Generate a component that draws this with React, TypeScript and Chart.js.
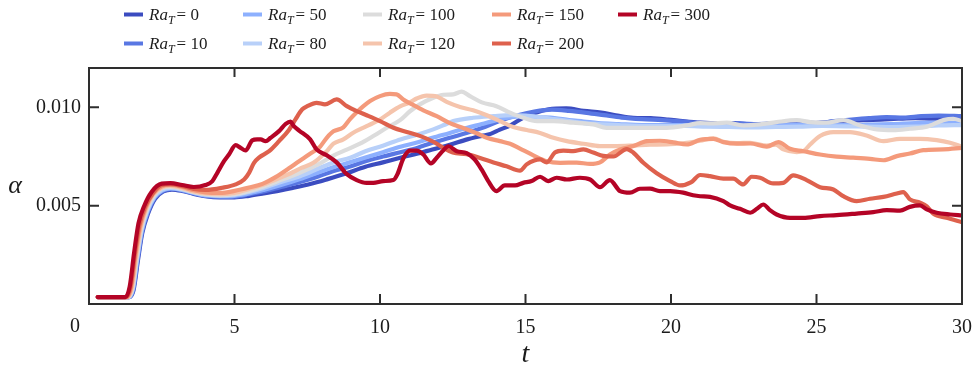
import { useEffect, useRef } from "react";
import { Chart, registerables } from "chart.js";

Chart.register(...registerables);

const SERIF = '"Liberation Serif", "Times New Roman", "DejaVu Serif", serif';
const INK = "#1c1c1c";
const FRAME = "#2e2e2e";

// Thermal Rayleigh numbers of the runs and their coolwarm colours
const RA_T = [0, 10, 50, 80, 100, 120, 150, 200, 300];
const COLORS = ["#3b4cc0", "#5977e3", "#8db0fe", "#b8d0f9", "#dcdcdc", "#f5c4ac", "#f49a7b", "#de614d", "#b40426"];

// alpha values are stored in units of 1e-3
const ALPHA_UNIT = 1e-3;

const X_TICKS = [0, 5, 10, 15, 20, 25, 30];
const Y_TICKS = [0.005, 0.01];

// [t, alpha (x1e-3)] for each run
const RA0: [number, number][] = [
  [0.3, 0.35], [1.38, 0.35], [1.53, 0.7], [1.68, 2.2], [1.83, 3.6], [2.03, 4.6], [2.27, 5.35], [2.55, 5.72],
  [2.85, 5.82], [3.2, 5.75], [3.6, 5.6], [4.0, 5.48], [4.5, 5.42], [5.0, 5.42], [5.5, 5.5], [6.0, 5.62],
  [6.5, 5.75], [7.0, 5.9], [7.6, 6.1], [8.2, 6.35], [8.8, 6.62], [9.5, 6.98], [10.1, 7.2], [10.7, 7.44],
  [11.3, 7.65], [11.8, 7.86], [12.4, 8.1], [13.0, 8.37], [13.5, 8.55], [13.8, 8.65], [14.1, 8.85], [14.5, 9.1],
  [14.9, 9.45], [15.3, 9.7], [15.8, 9.9], [16.4, 9.95], [17.0, 9.82], [17.6, 9.73], [18.1, 9.6], [18.7, 9.47],
  [19.3, 9.45], [19.9, 9.38], [20.4, 9.3], [21.0, 9.22], [21.6, 9.18], [22.2, 9.2], [22.8, 9.12], [23.5, 9.18],
  [24.2, 9.22], [24.8, 9.18], [25.4, 9.25], [26.0, 9.3], [26.6, 9.35], [27.2, 9.38], [27.8, 9.42], [28.4, 9.45],
  [29.0, 9.42], [29.5, 9.48], [30.0, 9.5],
];

const RA10: [number, number][] = [
  [0.3, 0.35], [1.37, 0.35], [1.52, 0.75], [1.67, 2.25], [1.82, 3.65], [2.02, 4.65], [2.26, 5.4], [2.55, 5.75],
  [2.85, 5.85], [3.2, 5.78], [3.6, 5.62], [4.0, 5.5], [4.5, 5.45], [5.0, 5.46], [5.5, 5.58], [6.0, 5.72],
  [6.6, 5.95], [7.25, 6.2], [7.9, 6.5], [8.5, 6.8], [9.0, 7.0], [9.5, 7.26], [10.1, 7.5], [10.7, 7.72],
  [11.3, 7.95], [11.8, 8.2], [12.4, 8.45], [13.0, 8.71], [13.6, 9.0], [14.1, 9.3], [14.7, 9.58], [15.3, 9.78],
  [15.9, 9.88], [16.5, 9.82], [17.1, 9.72], [17.7, 9.6], [18.3, 9.48], [19.0, 9.4], [19.7, 9.35], [20.4, 9.28],
  [21.0, 9.2], [21.6, 9.15], [22.3, 9.18], [23.0, 9.15], [23.7, 9.2], [24.4, 9.25], [25.0, 9.2], [25.6, 9.3],
  [26.2, 9.38], [26.8, 9.45], [27.4, 9.5], [28.0, 9.48], [28.6, 9.55], [29.2, 9.58], [30.0, 9.55],
];

const RA50: [number, number][] = [
  [0.3, 0.35], [1.36, 0.35], [1.51, 0.75], [1.66, 2.3], [1.81, 3.7], [2.01, 4.7], [2.25, 5.42], [2.52, 5.78],
  [2.82, 5.88], [3.2, 5.8], [3.6, 5.65], [4.0, 5.52], [4.5, 5.48], [5.0, 5.5], [5.5, 5.62], [6.0, 5.8],
  [6.6, 6.05], [7.25, 6.35], [7.9, 6.7], [8.5, 7.0], [9.5, 7.45], [10.1, 7.72], [10.7, 8.0], [11.3, 8.22],
  [11.8, 8.45], [12.4, 8.7], [13.0, 8.96], [13.5, 9.15], [14.0, 9.35], [14.5, 9.5], [15.0, 9.55], [15.5, 9.5],
  [16.0, 9.45], [16.5, 9.35], [17.0, 9.28], [17.5, 9.2], [18.2, 9.15], [19.0, 9.1], [19.8, 9.1], [20.5, 9.1],
  [21.2, 9.1], [22.0, 9.05], [22.8, 9.05], [23.6, 9.08], [24.4, 9.1], [25.2, 9.12], [26.0, 9.1], [26.8, 9.12],
  [27.6, 9.15], [28.4, 9.2], [29.2, 9.22], [30.0, 9.2],
];

const RA80: [number, number][] = [
  [0.3, 0.35], [1.35, 0.35], [1.5, 0.78], [1.65, 2.35], [1.8, 3.75], [2.0, 4.75], [2.24, 5.45], [2.5, 5.8],
  [2.8, 5.9], [3.2, 5.82], [3.6, 5.68], [4.0, 5.56], [4.5, 5.52], [5.0, 5.55], [5.5, 5.7], [6.0, 5.9],
  [6.6, 6.2], [7.25, 6.5], [7.9, 6.9], [8.4, 7.2], [9.0, 7.45], [9.5, 7.77], [10.1, 8.05], [10.7, 8.37],
  [11.3, 8.62], [11.83, 8.88], [12.2, 9.1], [12.52, 9.3], [13.2, 9.47], [13.9, 9.55], [14.5, 9.6], [15.0, 9.58],
  [15.5, 9.5], [16.0, 9.4], [16.5, 9.3], [17.0, 9.2], [17.5, 9.15], [18.2, 9.1], [19.0, 9.05], [19.8, 9.05],
  [20.5, 9.05], [21.2, 9.02], [22.0, 9.0], [22.8, 8.98], [23.6, 9.0], [24.4, 9.02], [25.2, 9.05], [26.0, 9.03],
  [26.8, 9.02], [27.6, 9.0], [28.4, 9.02], [29.2, 9.08], [30.0, 9.1],
];

const RA100: [number, number][] = [
  [0.3, 0.35], [1.34, 0.35], [1.49, 0.8], [1.64, 2.35], [1.79, 3.8], [1.99, 4.8], [2.22, 5.5], [2.5, 5.88],
  [2.8, 5.95], [3.2, 5.85], [3.6, 5.68], [4.0, 5.58], [4.5, 5.52], [5.0, 5.58], [5.5, 5.75], [6.0, 5.98],
  [6.5, 6.25], [7.2, 6.65], [7.94, 7.15], [8.4, 7.55], [8.86, 7.85], [9.31, 8.15], [9.77, 8.54], [10.23, 8.96],
  [10.69, 9.35], [11.03, 9.8], [11.37, 10.15], [11.83, 10.49], [12.18, 10.64], [12.52, 10.66], [12.8, 10.8],
  [13.09, 10.57], [13.5, 10.25], [14.0, 10.06], [14.47, 9.73], [14.92, 9.47], [15.39, 9.3], [15.96, 9.3],
  [16.64, 9.22], [17.33, 9.13], [17.79, 8.96], [18.48, 8.96], [19.17, 8.96], [19.85, 8.96], [20.54, 9.08],
  [21.0, 9.2], [21.34, 9.18], [21.91, 9.22], [22.48, 9.08], [23.06, 9.13], [23.63, 9.25], [24.32, 9.35],
  [24.78, 9.25], [25.35, 9.22], [25.92, 9.35], [26.5, 9.08], [27.07, 8.88], [27.64, 8.84], [28.21, 8.91],
  [28.79, 9.01], [29.36, 9.35], [29.7, 9.42], [30.0, 9.3],
];

const RA120: [number, number][] = [
  [0.3, 0.35], [1.32, 0.35], [1.47, 0.8], [1.62, 2.4], [1.77, 3.85], [1.97, 4.85], [2.2, 5.55], [2.5, 5.92],
  [2.8, 6.0], [3.2, 5.9], [3.6, 5.72], [4.0, 5.62], [4.5, 5.58], [5.0, 5.65], [5.5, 5.85], [6.0, 6.08],
  [6.5, 6.38], [7.0, 6.7], [7.3, 6.92], [7.71, 7.18], [8.17, 7.77], [8.4, 8.15], [8.74, 8.37], [9.08, 8.71],
  [9.54, 9.04], [10.0, 9.38], [10.34, 9.73], [10.69, 10.05], [11.03, 10.25], [11.26, 10.45], [11.6, 10.6],
  [11.95, 10.55], [12.29, 10.28], [12.75, 10.02], [13.2, 9.85], [13.67, 9.6], [14.12, 9.3], [14.58, 9.0],
  [15.04, 8.85], [15.5, 8.7], [15.96, 8.45], [16.42, 8.28], [16.99, 8.15], [17.56, 8.03], [18.13, 8.03],
  [18.71, 8.06], [19.28, 8.1], [19.85, 8.11], [20.54, 8.2], [21.0, 8.3], [21.46, 8.42], [21.8, 8.25],
  [22.26, 8.18], [22.72, 8.2], [23.29, 8.05], [23.6, 8.1], [23.86, 7.86], [24.32, 7.72], [24.55, 7.77],
  [24.78, 8.11], [25.12, 8.54], [25.58, 8.74], [26.15, 8.74], [26.72, 8.57], [27.3, 8.28], [27.87, 8.4],
  [28.56, 8.4], [29.13, 8.33], [29.59, 8.2], [30.0, 8.0],
];

const RA150: [number, number][] = [
  [0.3, 0.35], [1.3, 0.35], [1.45, 0.85], [1.6, 2.5], [1.75, 3.9], [1.95, 4.9], [2.2, 5.6], [2.5, 5.98],
  [2.8, 6.05], [3.2, 5.95], [3.6, 5.78], [4.0, 5.68], [4.5, 5.65], [5.0, 5.75], [5.5, 5.92], [5.96, 6.11],
  [6.41, 6.45], [6.87, 6.9], [7.22, 7.26], [7.56, 7.6], [7.94, 8.0], [8.17, 8.45], [8.4, 8.78], [8.74, 8.98],
  [8.97, 9.4], [9.2, 9.75], [9.43, 10.06], [9.66, 10.32], [10.0, 10.57], [10.34, 10.68], [10.57, 10.66],
  [10.8, 10.4], [11.14, 10.12], [11.49, 9.85], [11.95, 9.55], [12.4, 9.2], [12.86, 8.95], [13.32, 8.68],
  [13.67, 8.45], [14.12, 8.28], [14.47, 8.15], [14.81, 7.9], [15.27, 7.56], [15.73, 7.26], [16.19, 7.18],
  [16.76, 7.19], [17.22, 7.12], [17.56, 7.2], [17.9, 7.6], [18.25, 7.86], [18.71, 8.03], [19.17, 8.28],
  [19.62, 8.3], [20.08, 8.22], [20.54, 8.11], [21.0, 8.35], [21.46, 8.4], [21.8, 8.23], [22.26, 8.15],
  [22.72, 8.16], [23.29, 8.0], [23.69, 8.23], [24.09, 7.89], [24.55, 7.77], [25.12, 7.6], [25.69, 7.49],
  [26.26, 7.44], [26.84, 7.38], [27.3, 7.31], [27.76, 7.52], [28.21, 7.65], [28.67, 7.82], [29.36, 7.86],
  [30.0, 7.94],
];

const RA200: [number, number][] = [
  [0.3, 0.35], [1.28, 0.35], [1.43, 0.9], [1.58, 2.6], [1.73, 4.0], [1.93, 4.95], [2.2, 5.65], [2.5, 6.05],
  [2.8, 6.1], [3.2, 6.0], [3.6, 5.85], [4.0, 5.8], [4.58, 5.91], [5.04, 6.08], [5.33, 6.33], [5.5, 6.67],
  [5.67, 7.18], [5.84, 7.44], [6.19, 7.77], [6.53, 8.28], [6.87, 8.85], [7.1, 9.4], [7.33, 9.9], [7.5, 10.06],
  [7.82, 10.23], [8.11, 10.15], [8.51, 10.4], [8.86, 10.06], [9.2, 9.81], [9.54, 9.6], [10.0, 9.3],
  [10.46, 8.96], [10.92, 8.75], [11.37, 8.55], [11.83, 8.25], [12.18, 7.94], [12.5, 7.7], [12.98, 7.62],
  [13.44, 7.42], [13.9, 7.2], [14.35, 7.0], [14.81, 6.78], [15.04, 7.1], [15.3, 7.3], [15.5, 7.35],
  [15.73, 7.2], [16.01, 7.7], [16.3, 7.8], [16.64, 7.77], [16.99, 7.86], [17.33, 7.7], [17.67, 7.53],
  [18.02, 7.5], [18.48, 7.88], [18.71, 7.69], [19.05, 7.18], [19.51, 6.65], [19.97, 6.25], [20.31, 6.03],
  [20.7, 6.2], [21.0, 6.56], [21.34, 6.5], [21.8, 6.37], [22.14, 6.37], [22.48, 6.08], [22.77, 6.47],
  [23.06, 6.42], [23.51, 6.13], [23.86, 6.16], [24.2, 6.54], [24.66, 6.3], [25.12, 5.94], [25.58, 5.82],
  [25.92, 5.48], [26.38, 5.23], [26.84, 5.35], [27.3, 5.45], [27.76, 5.62], [27.98, 5.69], [28.21, 5.32],
  [28.56, 5.15], [28.79, 4.97], [29.01, 4.6], [29.47, 4.38], [30.0, 4.16],
];

const RA300: [number, number][] = [
  [0.3, 0.35], [1.25, 0.35], [1.4, 0.9], [1.55, 2.6], [1.7, 4.1], [1.9, 5.0], [2.15, 5.7], [2.5, 6.12],
  [2.8, 6.15], [3.2, 6.05], [3.6, 5.95], [4.0, 6.05], [4.24, 6.25], [4.41, 6.67], [4.64, 7.26], [4.81, 7.6],
  [5.04, 8.08], [5.21, 7.94], [5.38, 7.81], [5.61, 8.32], [5.78, 8.37], [5.9, 8.37], [6.07, 8.28], [6.24, 8.45],
  [6.53, 8.79], [6.76, 9.16], [6.93, 9.27], [7.04, 9.04], [7.22, 8.82], [7.6, 8.37], [7.82, 7.86], [8.17, 7.56],
  [8.51, 7.2], [8.86, 6.6], [9.2, 6.3], [9.54, 6.16], [9.77, 6.16], [10.11, 6.25], [10.46, 6.3], [10.6, 6.6],
  [10.8, 7.4], [11.03, 7.8], [11.26, 7.8], [11.49, 7.6], [11.75, 7.15], [11.95, 7.44], [12.18, 7.82],
  [12.35, 8.02], [12.64, 7.77], [12.98, 7.67], [13.25, 7.35], [13.49, 6.84], [13.72, 6.25], [14.0, 5.74],
  [14.29, 6.03], [14.64, 6.03], [14.92, 6.16], [15.21, 6.25], [15.5, 6.47], [15.78, 6.25], [16.07, 6.42],
  [16.42, 6.33], [16.87, 6.42], [17.22, 6.33], [17.56, 5.94], [17.9, 6.3], [18.25, 5.74], [18.59, 5.66],
  [18.93, 5.86], [19.28, 5.87], [19.62, 5.74], [19.97, 5.74], [20.42, 5.66], [20.76, 5.53], [21.0, 5.48],
  [21.34, 5.45], [21.8, 5.23], [22.03, 5.01], [22.37, 4.84], [22.72, 4.64], [22.95, 4.84], [23.17, 5.06],
  [23.4, 4.77], [23.63, 4.55], [24.09, 4.38], [24.55, 4.38], [25.12, 4.47], [25.69, 4.52], [26.38, 4.6],
  [26.95, 4.67], [27.41, 4.77], [27.87, 4.75], [28.21, 4.94], [28.56, 5.01], [28.79, 4.81], [29.13, 4.64],
  [29.59, 4.55], [30.0, 4.5],
];

const RUNS = [RA0, RA10, RA50, RA80, RA100, RA120, RA150, RA200, RA300];

// legend grid: two rows, filled column by column
const LEGEND_COL_X = [124, 243, 363, 492, 618];
const LEGEND_ROW_Y = [14.5, 43.5];
const LEGEND_ROWS = 2;

function drawRaLabel(ctx: CanvasRenderingContext2D, x: number, baseline: number, value: number) {
  ctx.textAlign = "left";
  ctx.textBaseline = "alphabetic";
  ctx.font = `italic 17px ${SERIF}`;
  ctx.fillText("Ra", x, baseline);
  let cx = x + ctx.measureText("Ra").width;
  ctx.font = `italic 12px ${SERIF}`;
  ctx.fillText("T", cx, baseline + 4);
  cx += ctx.measureText("T").width + 2;
  ctx.font = `17px ${SERIF}`;
  ctx.fillText("= " + value, cx, baseline);
}

const framePlugin = {
  id: "frameAndLegend",
  afterDraw(chart: any) {
    const { ctx, chartArea, scales } = chart;
    const { left, right, top, bottom } = chartArea;
    const xs = scales.x;
    const ys = scales.y;
    ctx.save();

    // axes frame
    ctx.strokeStyle = FRAME;
    ctx.lineWidth = 2;
    ctx.strokeRect(left, top, right - left, bottom - top);

    // inward tick marks on all four sides
    ctx.beginPath();
    X_TICKS.forEach((v) => {
      if (v <= xs.min || v >= xs.max) return;
      const px = xs.getPixelForValue(v);
      ctx.moveTo(px, bottom);
      ctx.lineTo(px, bottom - 10);
      ctx.moveTo(px, top);
      ctx.lineTo(px, top + 9);
    });
    Y_TICKS.forEach((v) => {
      const py = ys.getPixelForValue(v);
      ctx.moveTo(left, py);
      ctx.lineTo(left + 10, py);
      ctx.moveTo(right, py);
      ctx.lineTo(right - 10, py);
    });
    ctx.stroke();

    // origin label, offset to the left of the frame corner
    ctx.fillStyle = INK;
    ctx.font = `20px ${SERIF}`;
    ctx.textAlign = "center";
    ctx.textBaseline = "alphabetic";
    ctx.fillText("0", xs.getPixelForValue(0) - 14, bottom + 28);

    // axis titles
    ctx.font = `italic 26px ${SERIF}`;
    ctx.fillText("α", 15, 193);
    ctx.font = `italic 28px ${SERIF}`;
    ctx.fillText("t", (left + right) / 2, 362);

    // legend
    RA_T.forEach((ra, i) => {
      const col = Math.floor(i / LEGEND_ROWS);
      const row = i % LEGEND_ROWS;
      const x = LEGEND_COL_X[col];
      const y = LEGEND_ROW_Y[row];
      ctx.strokeStyle = COLORS[i];
      ctx.lineWidth = 4;
      ctx.beginPath();
      ctx.moveTo(x, y);
      ctx.lineTo(x + 19, y);
      ctx.stroke();
      ctx.fillStyle = INK;
      drawRaLabel(ctx, x + 25, y + 5.5, ra);
    });

    ctx.restore();
  },
};

export default function App() {
  const canvasRef = useRef<HTMLCanvasElement | null>(null);

  useEffect(() => {
    const canvas = canvasRef.current;
    if (!canvas) return;

    const datasets = RUNS.map((run, i) => ({
      label: `Ra_T = ${RA_T[i]}`,
      data: run.map(([t, a]) => ({ x: t, y: a * ALPHA_UNIT })),
      borderColor: COLORS[i],
      backgroundColor: COLORS[i],
      borderWidth: 4.2,
      pointRadius: 0,
      fill: false,
      cubicInterpolationMode: "monotone" as const,
      borderJoinStyle: "round" as const,
      borderCapStyle: "round" as const,
      order: RUNS.length - i,
    }));

    const chart = new Chart(canvas, {
      type: "line",
      data: { datasets },
      options: {
        animation: false,
        responsive: false,
        maintainAspectRatio: false,
        devicePixelRatio: 1,
        layout: { padding: { top: 68, right: 16, left: 0, bottom: 0 } },
        plugins: { legend: { display: false }, tooltip: { enabled: false } },
        scales: {
          x: {
            type: "linear",
            min: 0,
            max: 30,
            afterBuildTicks: (s: any) => {
              s.ticks = X_TICKS.map((v) => ({ value: v }));
            },
            afterFit: (s: any) => {
              s.height = 66;
              s.paddingLeft = 0;
              s.paddingRight = 0;
            },
            ticks: {
              autoSkip: false,
              maxRotation: 0,
              padding: 12,
              color: INK,
              font: { family: SERIF, size: 20 },
              callback: (v: any) => (Number(v) === 0 ? "" : String(v)),
            },
            grid: { display: false, drawTicks: false },
            border: { display: false },
          },
          y: {
            type: "linear",
            min: 0,
            max: 0.012,
            afterBuildTicks: (s: any) => {
              s.ticks = Y_TICKS.map((v) => ({ value: v }));
            },
            afterFit: (s: any) => {
              s.width = 89;
              s.paddingTop = 0;
              s.paddingBottom = 0;
            },
            ticks: {
              autoSkip: false,
              padding: 8,
              color: INK,
              font: { family: SERIF, size: 20 },
              callback: (v: any) => Number(v).toFixed(3),
            },
            grid: { display: false, drawTicks: false },
            border: { display: false },
          },
        },
      },
      plugins: [framePlugin],
    });

    return () => chart.destroy();
  }, []);

  return (
    <div style={{ position: "fixed", left: 0, top: 0, width: 978, height: 370, background: "#ffffff" }}>
      <canvas ref={canvasRef} width={978} height={370} style={{ width: 978, height: 370, display: "block" }} />
    </div>
  );
}
